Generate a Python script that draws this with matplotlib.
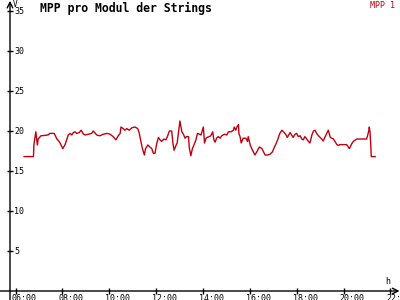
## MPP pro Modul der Strings - line chart

import numpy as np
import matplotlib
matplotlib.use("Agg")
import matplotlib.pyplot as plt
from matplotlib import rcParams

rcParams.update({"font.family": "DejaVu Sans Mono"})

# sample time in minutes of the day, MPP value per module
minutes = [382, 406, 407, 410, 412, 416, 418, 425, 443, 448, 459, 461, 466, 470, 474,
           481, 487, 491, 495, 500, 504, 508, 512, 517, 523, 528, 534, 538, 546, 555,
           559, 568, 576, 585, 594, 602, 610, 617, 623, 628, 630, 636, 640, 645, 651,
           658, 666, 673, 677, 681, 685, 690, 693, 699, 704, 709, 713, 717, 722, 726,
           730, 734, 740, 745, 749, 754, 760, 763, 766, 771, 774, 779, 781, 786, 790,
           794, 798, 803, 805, 809, 813, 817, 822, 826, 831, 835, 838, 841, 844, 848,
           851, 856, 860, 865, 868, 871, 875, 879, 884, 888, 895, 901, 905, 912, 918,
           920, 924, 927, 931, 932, 935, 938, 943, 950, 954, 956, 961, 965, 969, 973,
           978, 982, 985, 991, 995, 999, 1006, 1012, 1018, 1023, 1027, 1032, 1036, 1037,
           1042, 1048, 1053, 1056, 1063, 1067, 1071, 1076, 1080, 1084, 1089, 1093, 1097,
           1101, 1106, 1110, 1114, 1119, 1123, 1127, 1131, 1136, 1140, 1144, 1148, 1153,
           1157, 1161, 1166, 1170, 1174, 1178, 1183, 1187, 1191, 1208, 1215, 1221, 1225,
           1234, 1259, 1262, 1265, 1266, 1268, 1270, 1271, 1281]
mpp1 = [16.8, 16.8, 18.25, 19.3, 19.9, 18.25, 19.0, 19.4, 19.5, 19.7, 19.7, 19.5, 19.0, 18.8, 18.5,
        17.8, 18.3, 18.9, 19.5, 19.7, 19.5, 19.8, 19.9, 19.7, 19.8, 20.1, 19.6, 19.5, 19.6, 19.7,
        20.0, 19.5, 19.4, 19.6, 19.7, 19.6, 19.3, 18.9, 19.4, 19.7, 20.5, 20.3, 20.1, 20.3, 20.1,
        20.4, 20.5, 20.3, 19.7, 18.7, 17.8, 17.0, 17.8, 18.25, 18.0, 17.8, 17.2, 17.2, 18.5, 19.2,
        18.9, 18.7, 19.0, 18.9, 19.3, 20.0, 20.0, 18.5, 17.6, 18.2, 18.5, 20.5, 21.25, 19.9, 19.6,
        19.1, 19.3, 19.3, 17.9, 16.9, 17.8, 18.25, 18.9, 19.7, 19.6, 19.5, 20.0, 20.5, 18.5, 19.1,
        19.2, 19.3, 19.4, 19.9, 18.9, 18.6, 19.1, 19.3, 19.1, 19.4, 19.6, 19.5, 19.9, 19.9, 20.1,
        20.5, 20.1, 20.5, 20.8, 19.7, 19.3, 18.5, 19.1, 19.1, 18.7, 19.3, 18.25, 17.8, 17.4, 17.0,
        17.4, 17.8, 18.0, 17.8, 17.4, 17.0, 17.0, 17.1, 17.4, 18.0, 18.4, 19.0, 19.6, 19.7,
        20.1, 19.8, 19.5, 19.2, 19.8, 19.5, 19.2, 19.6, 19.7, 19.3, 19.4, 19.0, 18.9,
        19.3, 19.0, 18.7, 18.5, 19.5, 20.0, 20.1, 19.7, 19.4, 19.2, 19.0, 18.75, 19.3,
        19.7, 20.1, 19.2, 19.1, 19.0, 18.7, 18.3, 18.2, 18.3, 18.3, 17.8, 18.4, 18.7,
        19.0, 19.0, 19.5, 20.1, 20.5, 19.75, 18.0, 16.8, 16.8]

y_ticks = [5, 10, 15, 20, 25, 30, 35]
x_ticks = [6, 8, 10, 12, 14, 16, 18, 20, 22]
x_labels = ["06:00", "08:00", "10:00", "12:00", "14:00", "16:00", "18:00", "20:00", "22:00"]

line_color = "#c00010"
x0 = 5.765      # where the y axis sits
x_min, x_max = 5.338, 22.41
y_min, y_max = -1.125, 36.375

fig = plt.figure(figsize=(4, 3), dpi=100)
ax = fig.add_axes([0, 0, 1, 1])
ax.set_xlim(x_min, x_max)
ax.set_ylim(y_min, y_max)
ax.axis("off")

# axes with arrows
ax.annotate("", xy=(x_max - 0.02, 0), xytext=(x_min, 0),
            arrowprops=dict(arrowstyle="->", lw=1.0, color="black", shrinkA=0, shrinkB=0))
ax.annotate("", xy=(x0, y_max - 0.1), xytext=(x0, y_min),
            arrowprops=dict(arrowstyle="->", lw=1.0, color="black", shrinkA=0, shrinkB=0))

# y ticks, labels right of the axis
ax.plot([x0] * len(y_ticks), y_ticks, ls="none", marker="_", ms=4, mew=1.0, color="black")
for v in y_ticks:
    ax.annotate(str(v), xy=(x0, v), xytext=(4, 0), textcoords="offset pixels",
                ha="left", va="center", fontsize=6)

# x ticks, labels below
ax.plot(x_ticks, [0] * len(x_ticks), ls="none", marker="|", ms=4, mew=1.0, color="black")
for t, lab in zip(x_ticks, x_labels):
    ax.annotate(lab, xy=(t, 0), xytext=(-4, -3), textcoords="offset pixels",
                ha="left", va="top", fontsize=6)

# the data
hours = np.array(minutes) / 60.0
ax.plot(hours, mpp1, color=line_color, lw=1.0)

# texts
fig.text(40 / 400, 1 - 2 / 300, "MPP pro Modul der Strings", ha="left", va="top",
         fontsize=8.3, fontweight="bold")
fig.text(395 / 400, 1 - 1 / 300, "MPP 1", ha="right", va="top", fontsize=6, color=line_color)
fig.text(13 / 400, 1 - 0 / 300, "V", ha="left", va="top", fontsize=5.5)
fig.text(385 / 400, 1 - 277 / 300, "h", ha="left", va="top", fontsize=6)

fig.savefig("out.png", dpi=100)
